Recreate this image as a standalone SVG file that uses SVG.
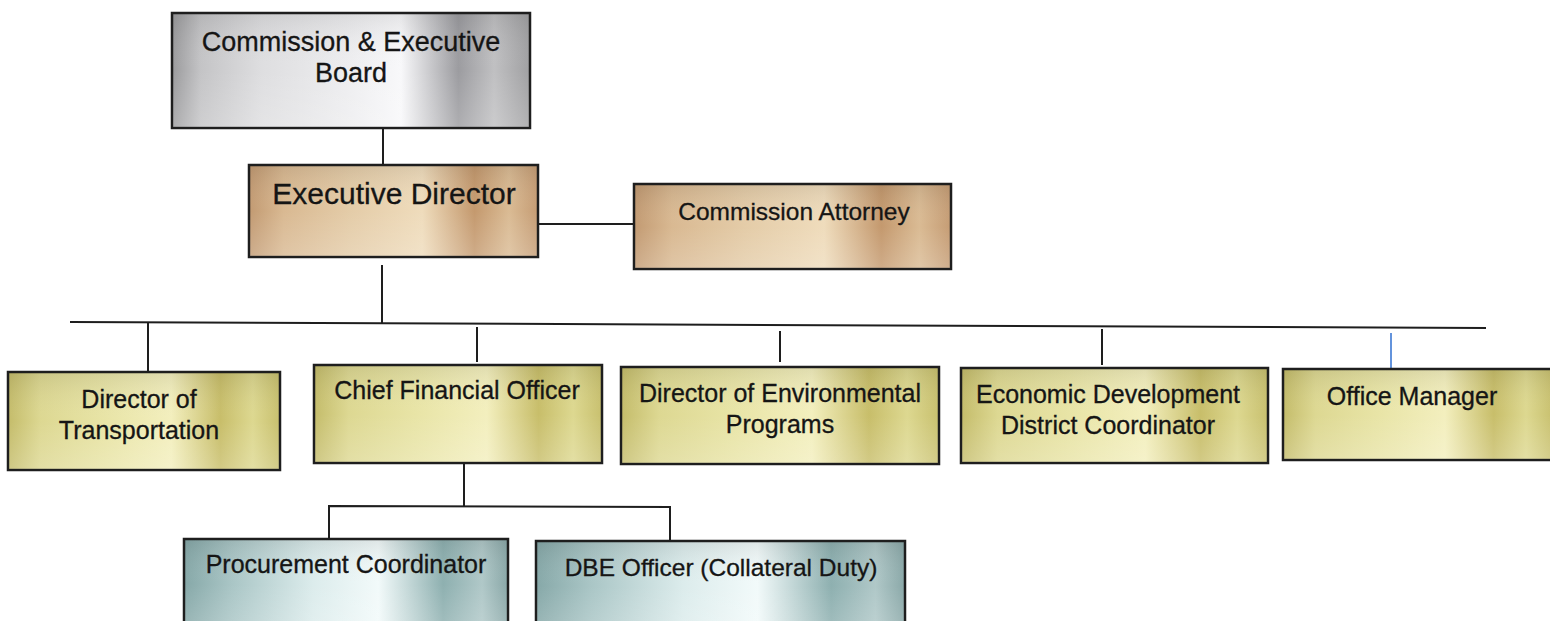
<svg xmlns="http://www.w3.org/2000/svg" width="1550" height="621" viewBox="0 0 1550 621">
<defs>
<linearGradient id="gSilver" x1="0" y1="0" x2="1" y2="0">
<stop offset="0" stop-color="#9a9a9c"/>
<stop offset="0.08" stop-color="#c4c4c6"/>
<stop offset="0.25" stop-color="#dedee0"/>
<stop offset="0.5" stop-color="#eeeef0"/>
<stop offset="0.64" stop-color="#f8f8fa"/>
<stop offset="0.8" stop-color="#9c9ca0"/>
<stop offset="0.9" stop-color="#c0c0c2"/>
<stop offset="1" stop-color="#a0a0a2"/>
</linearGradient>
<linearGradient id="gGold" x1="0" y1="0" x2="1" y2="0">
<stop offset="0" stop-color="#c29a72"/>
<stop offset="0.12" stop-color="#d9b992"/>
<stop offset="0.35" stop-color="#e4cca8"/>
<stop offset="0.6" stop-color="#efdcbc"/>
<stop offset="0.78" stop-color="#c4996e"/>
<stop offset="0.9" stop-color="#dabb94"/>
<stop offset="1" stop-color="#c59c74"/>
</linearGradient>
<linearGradient id="gYellow" x1="0" y1="0" x2="1" y2="0">
<stop offset="0" stop-color="#c4bc6a"/>
<stop offset="0.12" stop-color="#ddd892"/>
<stop offset="0.35" stop-color="#e8e4a6"/>
<stop offset="0.6" stop-color="#f3efbe"/>
<stop offset="0.78" stop-color="#c8be6a"/>
<stop offset="0.9" stop-color="#ddd890"/>
<stop offset="1" stop-color="#c8c06e"/>
</linearGradient>
<linearGradient id="gTeal" x1="0" y1="0" x2="1" y2="0">
<stop offset="0" stop-color="#86a8a8"/>
<stop offset="0.15" stop-color="#aac6c6"/>
<stop offset="0.4" stop-color="#dcecec"/>
<stop offset="0.6" stop-color="#f2fafa"/>
<stop offset="0.8" stop-color="#8eb0b0"/>
<stop offset="0.92" stop-color="#b0c8c8"/>
<stop offset="1" stop-color="#8aa8a8"/>
</linearGradient>
<linearGradient id="gShade" x1="0" y1="0" x2="0" y2="1">
<stop offset="0" stop-color="#000" stop-opacity="0.08"/>
<stop offset="0.5" stop-color="#fff" stop-opacity="0"/>
<stop offset="1" stop-color="#fff" stop-opacity="0.18"/>
</linearGradient>
<style>
.box{stroke:#1e1e1e;stroke-width:2.5}
.shade{fill:url(#gShade);stroke:none}
.silver{fill:url(#gSilver)}
.gold{fill:url(#gGold)}
.yellow{fill:url(#gYellow)}
.teal{fill:url(#gTeal)}
text{font-family:"Liberation Sans",Arial,sans-serif;fill:#151515;stroke:#151515;stroke-width:0.3;text-anchor:middle;font-size:25px}
.conn line,.conn polyline{stroke:#1e1e1e;stroke-width:2;fill:none}
</style>
</defs>
<rect width="1550" height="621" fill="#ffffff"/>
<g class="conn" id="connectors">
<line x1="383" y1="128" x2="383" y2="165"/>
<line x1="538" y1="224" x2="634" y2="224"/>
<line x1="382" y1="265" x2="382" y2="323"/>
<line x1="70" y1="322" x2="1486" y2="328"/>
<line x1="148" y1="322" x2="148" y2="372"/>
<line x1="477" y1="327" x2="477" y2="362"/>
<line x1="780" y1="331" x2="780" y2="362"/>
<line x1="1102" y1="329" x2="1102" y2="365"/>
<line x1="1391" y1="333" x2="1391" y2="369" style="stroke:#2f6fd0;stroke-width:1.5"/>
<line x1="464" y1="463" x2="464" y2="506"/>
<polyline points="329,540 329,506 670,507 670,542"/>
</g>
<g id="commission-board">
<rect class="box silver" x="172" y="13" width="358" height="115"/>
<rect class="shade" x="173" y="14" width="356" height="113"/>
<text x="351" y="51" style="font-size:27px">Commission &amp; Executive</text>
<text x="351" y="82" style="font-size:27px">Board</text>
</g>
<g id="executive-director">
<rect class="box gold" x="249" y="165" width="289" height="92"/>
<rect class="shade" x="250" y="166" width="287" height="90"/>
<text x="394" y="204" style="font-size:30px">Executive Director</text>
</g>
<g id="commission-attorney">
<rect class="box gold" x="634" y="184" width="317" height="85"/>
<rect class="shade" x="635" y="185" width="315" height="83"/>
<text x="794" y="220" style="font-size:24.5px">Commission Attorney</text>
</g>
<g id="director-transportation">
<rect class="box yellow" x="8" y="372" width="272" height="98"/>
<rect class="shade" x="9" y="373" width="270" height="96"/>
<text x="139" y="408">Director of</text>
<text x="139" y="439">Transportation</text>
</g>
<g id="chief-financial-officer">
<rect class="box yellow" x="314" y="365" width="288" height="98"/>
<rect class="shade" x="315" y="366" width="286" height="96"/>
<text x="457" y="399">Chief Financial Officer</text>
</g>
<g id="director-environmental">
<rect class="box yellow" x="621" y="367" width="318" height="97"/>
<rect class="shade" x="622" y="368" width="316" height="95"/>
<text x="780" y="402">Director of Environmental</text>
<text x="780" y="433">Programs</text>
</g>
<g id="economic-development">
<rect class="box yellow" x="961" y="368" width="307" height="95"/>
<rect class="shade" x="962" y="369" width="305" height="93"/>
<text x="1108" y="403">Economic Development</text>
<text x="1108" y="434">District Coordinator</text>
</g>
<g id="office-manager">
<rect class="box yellow" x="1283" y="369" width="270" height="91"/>
<rect class="shade" x="1284" y="370" width="268" height="89"/>
<text x="1412" y="405">Office Manager</text>
</g>
<g id="procurement-coordinator">
<rect class="box teal" x="184" y="539" width="324" height="90"/>
<rect class="shade" x="185" y="540" width="322" height="88"/>
<text x="346" y="573">Procurement Coordinator</text>
</g>
<g id="dbe-officer">
<rect class="box teal" x="536" y="541" width="369" height="90"/>
<rect class="shade" x="537" y="542" width="367" height="88"/>
<text x="721" y="576" style="font-size:24.5px">DBE Officer (Collateral Duty)</text>
</g>
</svg>
